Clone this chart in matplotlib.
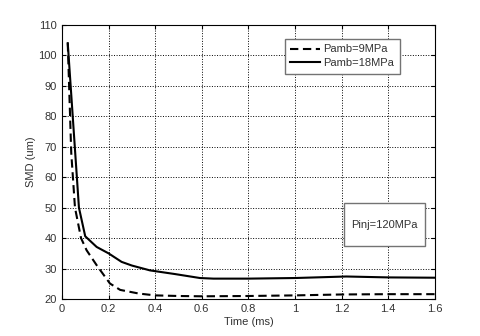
import matplotlib
matplotlib.use("Agg")
import matplotlib.pyplot as plt
from matplotlib.patches import Rectangle

plt.rcParams["font.family"] = ["Liberation Sans", "DejaVu Sans"]
plt.rcParams["font.size"] = 8

# SMD vs time, Pinj = 120 MPa
t_9 = [0.025, 0.04, 0.056, 0.082, 0.106, 0.15, 0.206, 0.25, 0.33, 0.4, 0.5, 0.6, 0.8, 1.0, 1.2, 1.4, 1.6]
smd_9 = [104, 68, 50, 40, 36, 31, 25.1, 23, 21.8, 21.2, 21.0, 20.9, 21.0, 21.2, 21.5, 21.6, 21.6]

t_18 = [0.025, 0.073, 0.1, 0.149, 0.2, 0.256, 0.3, 0.378, 0.485, 0.592, 0.65, 0.8, 1.0, 1.22, 1.4, 1.6]
smd_18 = [104, 50, 40.6, 37.1, 35, 32.2, 31, 29.4, 28.2, 26.9, 26.7, 26.7, 26.9, 27.4, 27.1, 27.0]

fig = plt.figure(figsize=(4.8, 3.36), dpi=100)
ax = fig.add_axes([0.129, 0.11, 0.777, 0.816])

ax.plot(t_9, smd_9, "k--", lw=1.5, dashes=(4, 2.2), label="Pamb=9MPa")
ax.plot(t_18, smd_18, "k-", lw=1.5, label="Pamb=18MPa")

ax.set_xlim(0, 1.6)
ax.set_ylim(20, 110)
ax.set_xticks([0, 0.2, 0.4, 0.6, 0.8, 1.0, 1.2, 1.4, 1.6])
ax.set_xticklabels(["0", "0.2", "0.4", "0.6", "0.8", "1", "1.2", "1.4", "1.6"])
ax.set_yticks(range(20, 111, 10))
ax.grid(True, color="k", linestyle=":", linewidth=0.7)
ax.tick_params(direction="in", top=True, right=True, length=3, labelcolor="0.2")
ax.set_xlabel("Time (ms)", labelpad=2, color="0.2")
ax.set_ylabel("SMD (um)", labelpad=2, color="0.2")

leg = ax.legend(loc="upper right", bbox_to_anchor=(0.906, 0.949), borderaxespad=0,
                fancybox=False, framealpha=1, edgecolor="0.45", handlelength=2.7,
                handletextpad=0.3, borderpad=0.5, labelspacing=0.35)
leg.get_frame().set_linewidth(1.0)
for txt in leg.get_texts():
    txt.set_color("0.2")

# annotation box
ax.add_patch(Rectangle((0.756, 0.193), 0.217, 0.157, transform=ax.transAxes,
                       fc="white", ec="0.45", lw=1.0, zorder=5))
ax.text(0.8645, 0.2715, "Pinj=120MPa", transform=ax.transAxes, ha="center",
        va="center", color="0.2", zorder=6)

fig.savefig("out.png", dpi=100)
